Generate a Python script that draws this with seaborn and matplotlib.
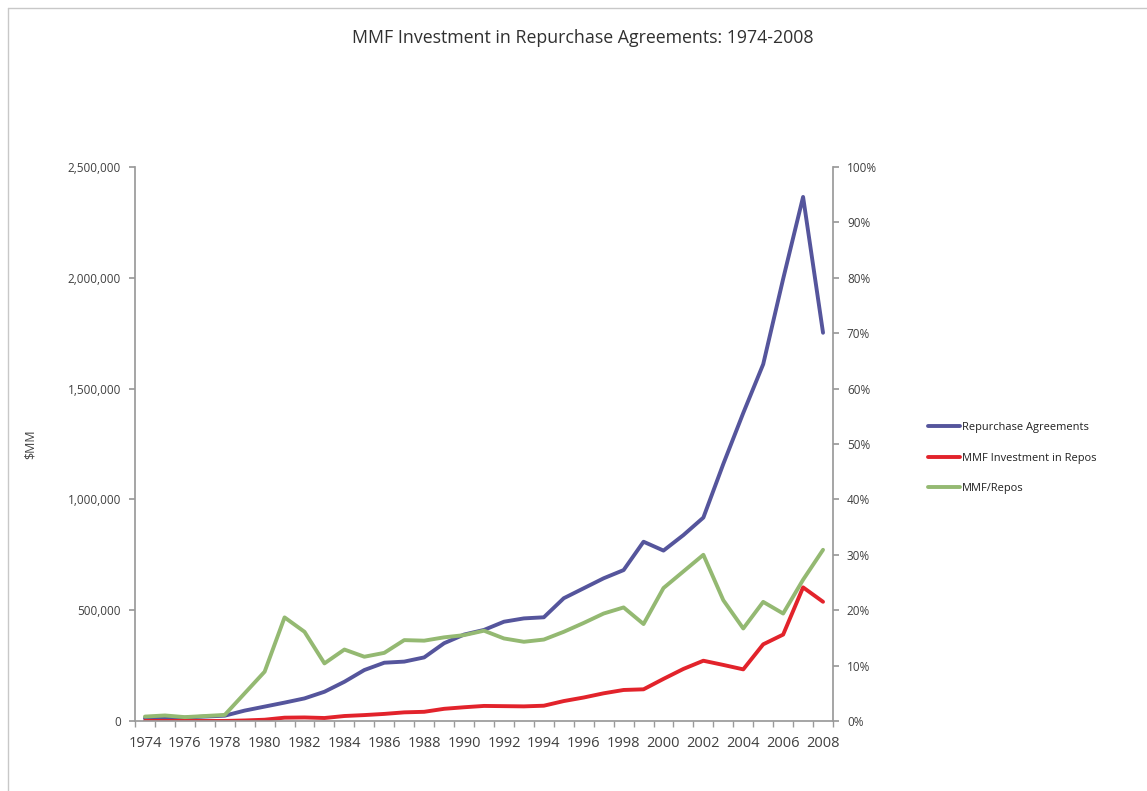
import matplotlib
matplotlib.use("Agg")
import matplotlib.pyplot as plt
import matplotlib.ticker as mticker
from matplotlib.lines import Line2D
import numpy as np
import pandas as pd
import seaborn as sns

years = list(range(1974, 2009))
repos = [12000, 14000, 15000, 20000, 24000, 47000, 65000, 83000, 102000, 132000,
         177000, 230000, 263000, 268000, 287000, 351000, 390000, 411000, 448000, 463000,
         468000, 554000, 599000, 644000, 681000, 809000, 769000, 839000, 918000, 1160000,
         1390000, 1610000, 1995000, 2365000, 1752000]
mmf_repos = [100, 150, 100, 150, 250, 2400, 5800, 15000, 16000, 13500,
             22500, 26700, 32000, 39000, 41500, 55000, 62000, 68000, 67000, 66000,
             69000, 90000, 106000, 125000, 140000, 143000, 190000, 235000, 272000, 253000,
             233000, 346000, 390000, 603000, 538000]
ratio_pct = [0.8, 1.0, 0.7, 0.9, 1.1, 5.0, 8.9, 18.7, 16.1, 10.4,
             12.9, 11.6, 12.3, 14.6, 14.5, 15.1, 15.5, 16.3, 14.9, 14.3,
             14.7, 16.1, 17.7, 19.4, 20.5, 17.5, 24.0, 27.0, 30.0, 21.8,
             16.7, 21.5, 19.4, 25.5, 30.9]

title = "MMF Investment in Repurchase Agreements: 1974-2008"
labels = ["Repurchase Agreements", "MMF Investment in Repos", "MMF/Repos"]
colors = ["#55559c", "#e2232b", "#94b972"]

sns.set_theme(style="white")
plt.rcParams['font.family'] = ['Open Sans', 'DejaVu Sans']

df = pd.DataFrame({"year": years, "repos": repos, "mmf": mmf_repos, "ratio": np.array(ratio_pct) / 100})

fig = plt.figure(figsize=(11.47, 7.91), dpi=100)
ax = fig.add_axes([135/1147, 1 - 721/791, (833-135)/1147, (721-167)/791])
ax2 = ax.twinx()

sns.lineplot(data=df, x="year", y="repos", ax=ax, color=colors[0], linewidth=2.8, legend=False)
sns.lineplot(data=df, x="year", y="mmf", ax=ax, color=colors[1], linewidth=2.8, legend=False)
sns.lineplot(data=df, x="year", y="ratio", ax=ax2, color=colors[2], linewidth=2.8, legend=False)

ax.set_xlim(1973.5, 2008.5)
ax.set_ylim(0, 2500000)
ax2.set_ylim(0, 1.0)

tick_col = "#404040"
axis_col = "#9a9a9a"

ax.set_yticks(np.arange(0, 2500001, 500000))
ax.yaxis.set_major_formatter(mticker.FuncFormatter(lambda v, p: f"{int(v):,}"))
ax2.set_yticks(np.arange(0, 1.01, 0.1))
ax2.yaxis.set_major_formatter(mticker.FuncFormatter(lambda v, p: f"{int(round(v*100))}%"))

ax.set_xticks(list(range(1974, 2009, 2)))
ax.set_xticklabels([str(y) for y in range(1974, 2009, 2)])
ax.set_xticks(np.arange(1973.5, 2008.6, 1.0), minor=True)
ax.tick_params(axis="x", which="major", length=0, labelsize=10.5, colors=tick_col, pad=11)
ax.tick_params(axis="x", which="minor", length=4, color=axis_col, direction="out", bottom=True)
ax.tick_params(axis="y", length=4, color=axis_col, labelsize=8.5, labelcolor=tick_col, direction="out", left=True, pad=6)
ax2.tick_params(axis="y", length=4, color=axis_col, labelsize=8.5, labelcolor=tick_col, direction="out", right=True, pad=6)

for a in (ax, ax2):
    for s in a.spines.values():
        s.set_visible(False)
    a.set_xlabel("")
    a.set_ylabel("")
    a.grid(False)
ax.spines["left"].set_visible(True)
ax.spines["left"].set_color(axis_col)
ax.spines["bottom"].set_visible(True)
ax.spines["bottom"].set_color(axis_col)
ax2.spines["right"].set_visible(True)
ax2.spines["right"].set_color(axis_col)

ax.set_ylabel("$MM", fontsize=9, color=tick_col, labelpad=22)

fig.text(583/1147, 1 - 38/791, title, ha="center", va="center", fontsize=12.8, color="#303030")

handles = [Line2D([0], [0], color=c, linewidth=2.8) for c in colors]
fig.legend(handles, labels, loc="center left", bbox_to_anchor=(918/1147, 1 - 458/791),
           frameon=False, fontsize=7.9, handlelength=2.9, handletextpad=0.2,
           labelspacing=1.8, labelcolor="#202020")

# chart frame lines (left and top)
fig.add_artist(Line2D([8/1147, 8/1147], [0, 1 - 8/791], transform=fig.transFigure, color="#c8c8c8", linewidth=1))
fig.add_artist(Line2D([8/1147, 1], [1 - 8/791, 1 - 8/791], transform=fig.transFigure, color="#c8c8c8", linewidth=1))

fig.savefig("out.png", dpi=100)
